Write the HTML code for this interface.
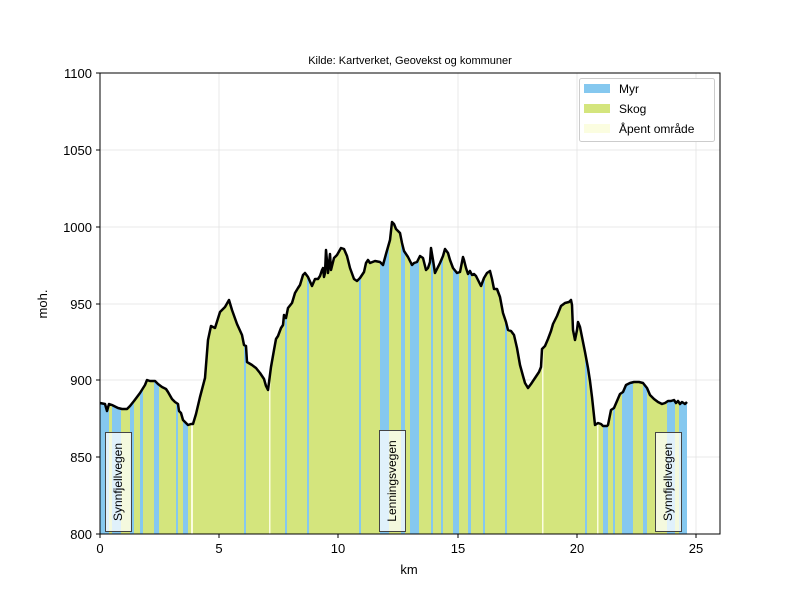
<!DOCTYPE html>
<html><head><meta charset="utf-8"><style>body{margin:0;background:#fff}svg{display:block;font-family:"Liberation Sans","DejaVu Sans",sans-serif}</style></head><body>
<svg width="800" height="600" viewBox="0 0 800 600" xmlns="http://www.w3.org/2000/svg">
<defs><clipPath id="cp"><polygon id="pp" points="100,534 100,403 105,404 107,411 109,404 112,405 118,408 122,409 127,409 130,406 134,401 140,393 145,385 147,380 150,381 155,381 158,384 162,387 166,389 168,392 172,399 175,402 178,404 179,411 181,413 183,420 186,423 188,425 191,424 193,424 196,414 200,397 205,378 208,340 211,326 215,328 220,312 225,307 229,300 232,310 237,324 242,335 244,345 246,346 247,362 252,365 256,368 260,373 264,379 266,386 268,390 271,367 274,350 276,339 278,336 281,328 283,325 284,315 286,318 288,308 292,303 295,293 298,288 300,285 303,275 305,273 308,277 312,286 315,279 318,279 320,276 322,270 323,268 324,277 325,273 326,250 328,273 330,254 331,270 334,258 337,255 341,248 344,249 347,256 350,268 354,279 357,281 360,278 364,272 366,263 368,260 370,263 375,261 380,262 383,265 386,254 390,240 392,222 394,224 396,229 400,233 402,243 404,251 408,257 412,265 414,263 417,262 420,256 423,258 426,270 428,268 430,262 431,248 433,260 435,273 437,269 440,263 443,256 445,249 448,253 450,260 453,268 457,273 460,272 463,257 464,260 466,268 468,274 470,271 472,275 474,274 476,276 478,280 481,286 484,278 487,273 490,271 492,279 494,289 497,289 500,297 503,313 506,322 508,330 511,331 514,335 517,348 520,365 523,376 525,383 528,388 531,384 535,378 539,372 541,367 542,349 545,346 548,339 551,331 553,324 557,316 561,306 565,303 569,302 571,300 572,305 573,330 575,340 577,330 578,322 580,327 582,337 585,352 588,368 590,381 592,397 595,425 598,423 601,424 603,426 607,426 608,425 611,410 614,408 617,401 620,394 623,392 626,385 630,383 634,382 639,382 643,383 647,388 650,395 654,399 658,402 662,404 665,403 668,401 671,401 674,400 676,403 678,401 680,404 682,402 685,404 687,402 687,534"/></clipPath></defs>
<g stroke="#e3e3e3" stroke-width="0.8">
<line x1="219" y1="73" x2="219" y2="534"/><line x1="338" y1="73" x2="338" y2="534"/><line x1="458" y1="73" x2="458" y2="534"/><line x1="577" y1="73" x2="577" y2="534"/><line x1="696" y1="73" x2="696" y2="534"/>
<line x1="100" y1="150" x2="720" y2="150"/><line x1="100" y1="227" x2="720" y2="227"/><line x1="100" y1="304" x2="720" y2="304"/><line x1="100" y1="380" x2="720" y2="380"/><line x1="100" y1="457" x2="720" y2="457"/>
</g>
<g clip-path="url(#cp)">
<rect x="100" y="200" width="590" height="334" fill="#d4e57d"/>
<g fill="#85c8ef">
<rect x="100" y="200" width="9" height="334"/><rect x="112" y="200" width="9" height="334"/><rect x="130" y="200" width="4" height="334"/><rect x="140" y="200" width="3" height="334"/><rect x="154" y="200" width="5" height="334"/><rect x="176" y="200" width="2" height="334"/><rect x="183" y="200" width="5" height="334"/><rect x="244" y="200" width="2" height="334"/><rect x="285" y="200" width="2" height="334"/><rect x="307" y="200" width="2" height="334"/><rect x="359" y="200" width="2" height="334"/><rect x="380" y="200" width="9" height="334"/><rect x="401" y="200" width="4" height="334"/><rect x="410" y="200" width="9" height="334"/><rect x="431" y="200" width="2" height="334"/><rect x="441" y="200" width="2" height="334"/><rect x="453" y="200" width="6" height="334"/><rect x="468" y="200" width="3" height="334"/><rect x="483" y="200" width="2" height="334"/><rect x="505" y="200" width="2" height="334"/><rect x="585" y="200" width="2" height="334"/><rect x="603" y="200" width="5" height="334"/><rect x="613" y="200" width="2" height="334"/><rect x="622" y="200" width="11" height="334"/><rect x="643" y="200" width="4" height="334"/><rect x="667" y="200" width="8" height="334"/><rect x="679" y="200" width="8" height="334"/>
</g>
<g fill="#fbfde0"><rect x="191" y="200" width="2" height="334"/><rect x="269" y="200" width="1.5" height="334"/><rect x="542" y="200" width="1.5" height="334"/><rect x="597" y="200" width="1.5" height="334"/></g>
</g>
<polyline points="100,403 105,404 107,411 109,404 112,405 118,408 122,409 127,409 130,406 134,401 140,393 145,385 147,380 150,381 155,381 158,384 162,387 166,389 168,392 172,399 175,402 178,404 179,411 181,413 183,420 186,423 188,425 191,424 193,424 196,414 200,397 205,378 208,340 211,326 215,328 220,312 225,307 229,300 232,310 237,324 242,335 244,345 246,346 247,362 252,365 256,368 260,373 264,379 266,386 268,390 271,367 274,350 276,339 278,336 281,328 283,325 284,315 286,318 288,308 292,303 295,293 298,288 300,285 303,275 305,273 308,277 312,286 315,279 318,279 320,276 322,270 323,268 324,277 325,273 326,250 328,273 330,254 331,270 334,258 337,255 341,248 344,249 347,256 350,268 354,279 357,281 360,278 364,272 366,263 368,260 370,263 375,261 380,262 383,265 386,254 390,240 392,222 394,224 396,229 400,233 402,243 404,251 408,257 412,265 414,263 417,262 420,256 423,258 426,270 428,268 430,262 431,248 433,260 435,273 437,269 440,263 443,256 445,249 448,253 450,260 453,268 457,273 460,272 463,257 464,260 466,268 468,274 470,271 472,275 474,274 476,276 478,280 481,286 484,278 487,273 490,271 492,279 494,289 497,289 500,297 503,313 506,322 508,330 511,331 514,335 517,348 520,365 523,376 525,383 528,388 531,384 535,378 539,372 541,367 542,349 545,346 548,339 551,331 553,324 557,316 561,306 565,303 569,302 571,300 572,305 573,330 575,340 577,330 578,322 580,327 582,337 585,352 588,368 590,381 592,397 595,425 598,423 601,424 603,426 607,426 608,425 611,410 614,408 617,401 620,394 623,392 626,385 630,383 634,382 639,382 643,383 647,388 650,395 654,399 658,402 662,404 665,403 668,401 671,401 674,400 676,403 678,401 680,404 682,402 685,404 687,402" fill="none" stroke="#000" stroke-width="2.5" stroke-linejoin="round"/>
<g fill="#ffffff" fill-opacity="0.75" stroke="#444" stroke-width="1">
<rect x="105.5" y="432.5" width="26" height="99"/><rect x="379.5" y="430.5" width="26" height="101"/><rect x="655.5" y="432.5" width="26" height="99"/>
</g>
<g font-size="12" fill="#000" text-anchor="middle">
<text transform="translate(122,482) rotate(-90)">Synnfjellvegen</text>
<text transform="translate(396,481) rotate(-90)">Lenningsvegen</text>
<text transform="translate(672,482) rotate(-90)">Synnfjellvegen</text>
</g>
<rect x="100" y="73" width="620" height="461" fill="none" stroke="#000" stroke-width="1"/>
<g stroke="#000"><line x1="100" y1="534" x2="100" y2="538"/><line x1="219" y1="534" x2="219" y2="538"/><line x1="338" y1="534" x2="338" y2="538"/><line x1="458" y1="534" x2="458" y2="538"/><line x1="577" y1="534" x2="577" y2="538"/><line x1="696" y1="534" x2="696" y2="538"/>
<line x1="96" y1="73" x2="100" y2="73"/><line x1="96" y1="150" x2="100" y2="150"/><line x1="96" y1="227" x2="100" y2="227"/><line x1="96" y1="304" x2="100" y2="304"/><line x1="96" y1="380" x2="100" y2="380"/><line x1="96" y1="457" x2="100" y2="457"/><line x1="96" y1="534" x2="100" y2="534"/></g>
<g font-size="13" fill="#000" text-anchor="middle"><text x="100" y="553">0</text><text x="219" y="553">5</text><text x="338" y="553">10</text><text x="458" y="553">15</text><text x="577" y="553">20</text><text x="696" y="553">25</text><text x="409" y="574">km</text></g>
<g font-size="13" fill="#000" text-anchor="end"><text x="92" y="78">1100</text><text x="92" y="155">1050</text><text x="92" y="232">1000</text><text x="92" y="309">950</text><text x="92" y="385">900</text><text x="92" y="462">850</text><text x="92" y="539">800</text></g>
<text transform="translate(47,304) rotate(-90)" font-size="13" text-anchor="middle">moh.</text>
<text x="410" y="64" font-size="11" text-anchor="middle">Kilde: Kartverket, Geovekst og kommuner</text>
<rect x="579.5" y="78.5" width="135" height="63" rx="2" fill="#fff" stroke="#ccc"/>
<rect x="584" y="84" width="26" height="9" fill="#85c8ef"/><text x="619" y="93" font-size="12">Myr</text>
<rect x="584" y="104" width="26" height="9" fill="#d4e57d"/><text x="619" y="113" font-size="12">Skog</text>
<rect x="584" y="124" width="26" height="9" fill="#fbfde0"/><text x="619" y="133" font-size="12">Åpent område</text>
</svg>
</body></html>
